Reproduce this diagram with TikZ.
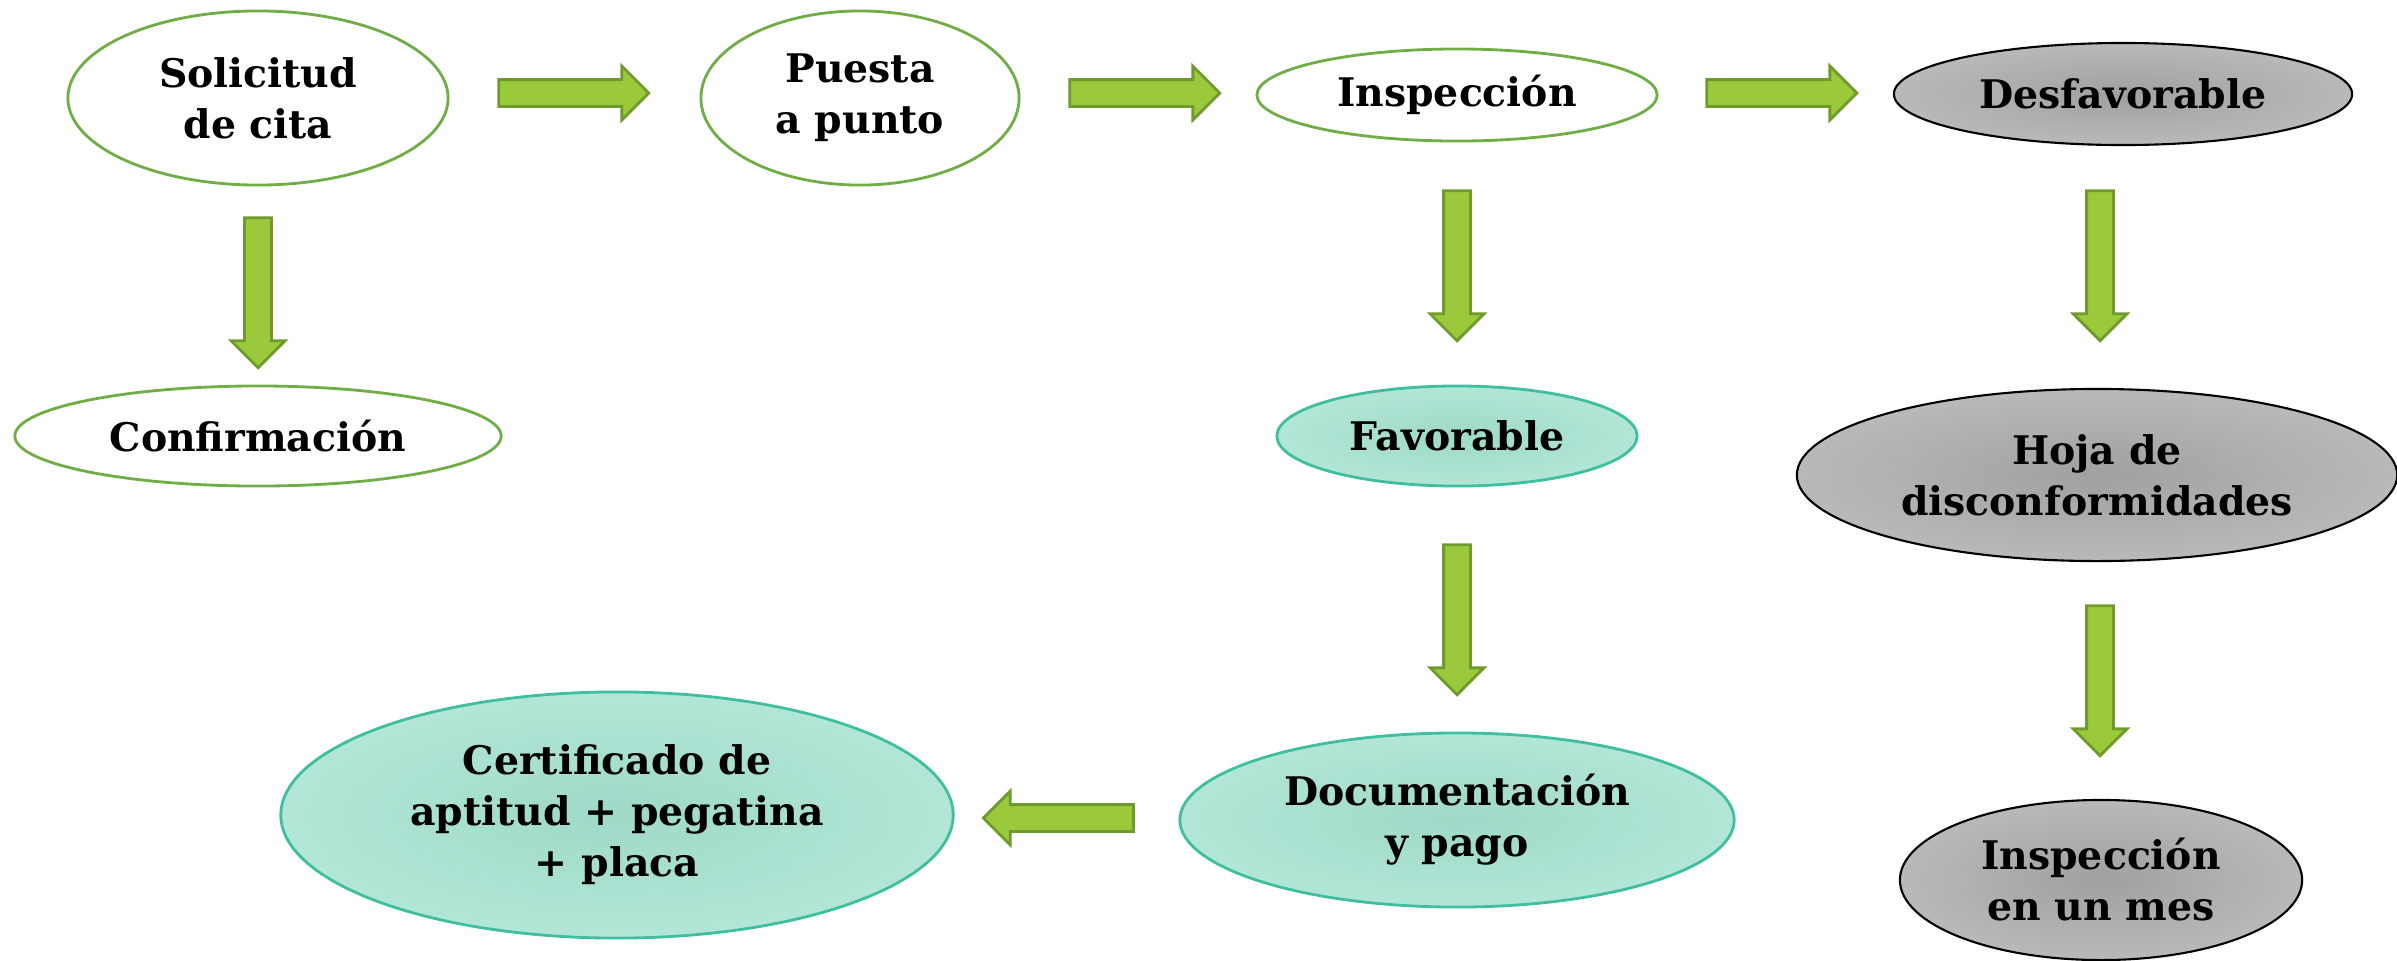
\documentclass[tikz,border=0pt]{standalone}
\usepackage{fontspec}
\setmainfont{DejaVu Serif}
\usetikzlibrary{shapes.geometric,shapes.arrows}
\definecolor{verde}{HTML}{70AD47}
\definecolor{flecha}{HTML}{9ACA3C}
\definecolor{flechaborde}{HTML}{6F9A2C}
\definecolor{turq}{HTML}{3FBF9F}
\definecolor{turqin}{HTML}{9FD9C8}
\definecolor{turqout}{HTML}{B2E6D7}
\definecolor{grisin}{HTML}{A0A0A0}
\definecolor{grisout}{HTML}{B9B9B9}
\begin{document}
\begin{tikzpicture}[x=0.01cm,y=-0.01cm,
    every node/.style={font=\bfseries\fontsize{11.2}{14.5}\selectfont,align=center,inner sep=0pt},
    blanca/.style={ellipse,draw=verde,thick,fill=white},
    turquesa/.style={ellipse,draw=turq,thick,inner color=turqin,outer color=turqout},
    gris/.style={ellipse,draw=black,semithick,inner color=grisin,outer color=grisout},
    flechita/.style={single arrow,draw=flechaborde,fill=flecha,thick,minimum height=1.5cm,
        inner sep=0.12cm,single arrow head extend=0.135cm,single arrow head indent=0pt}]
    \useasboundingbox (0,0) rectangle (2397,960);

    \node[blanca,minimum width=3.80cm,minimum height=1.74cm](sol)at(258,98){Solicitud\\de cita};
    \node[blanca,minimum width=4.86cm,minimum height=1.00cm](conf)at(258,436){Confirmación};
    \node[blanca,minimum width=3.18cm,minimum height=1.74cm](pue)at(860,98){Puesta\\a punto};
    \node[blanca,minimum width=4.00cm,minimum height=0.92cm](ins)at(1457,95){Inspección};
    \node[gris,minimum width=4.58cm,minimum height=1.02cm](des)at(2123,94){Desfavorable};
    \node[turquesa,minimum width=3.60cm,minimum height=1.00cm](fav)at(1457,436){Favorable};
    \node[gris,minimum width=6.00cm,minimum height=1.72cm](hoja)at(2097,475){Hoja de\\disconformidades};
    \node[gris,minimum width=4.02cm,minimum height=1.60cm](mes)at(2101,880){Inspección\\en un mes};
    \node[turquesa,minimum width=5.54cm,minimum height=1.74cm](doc)at(1457,820){Documentación\\y pago};
    \node[turquesa,minimum width=6.72cm,minimum height=2.46cm](cert)at(617,815){Certificado de\\aptitud + pegatina\\+ placa};

    \node[flechita](f1)at(567,93){};
    \node[flechita](f2)at(1138,93){};
    \node[flechita](f3)at(1775,93){};
    \node[flechita,rotate=-90](f4)at(258,286){};
    \node[flechita,rotate=-90](f5)at(1457,259){};
    \node[flechita,rotate=-90](f6)at(2100,259){};
    \node[flechita,rotate=-90](f7)at(1457,613){};
    \node[flechita,rotate=-90](f8)at(2100,674){};
    \node[flechita,rotate=180](f9)at(1065,818){};
\end{tikzpicture}
\end{document}
